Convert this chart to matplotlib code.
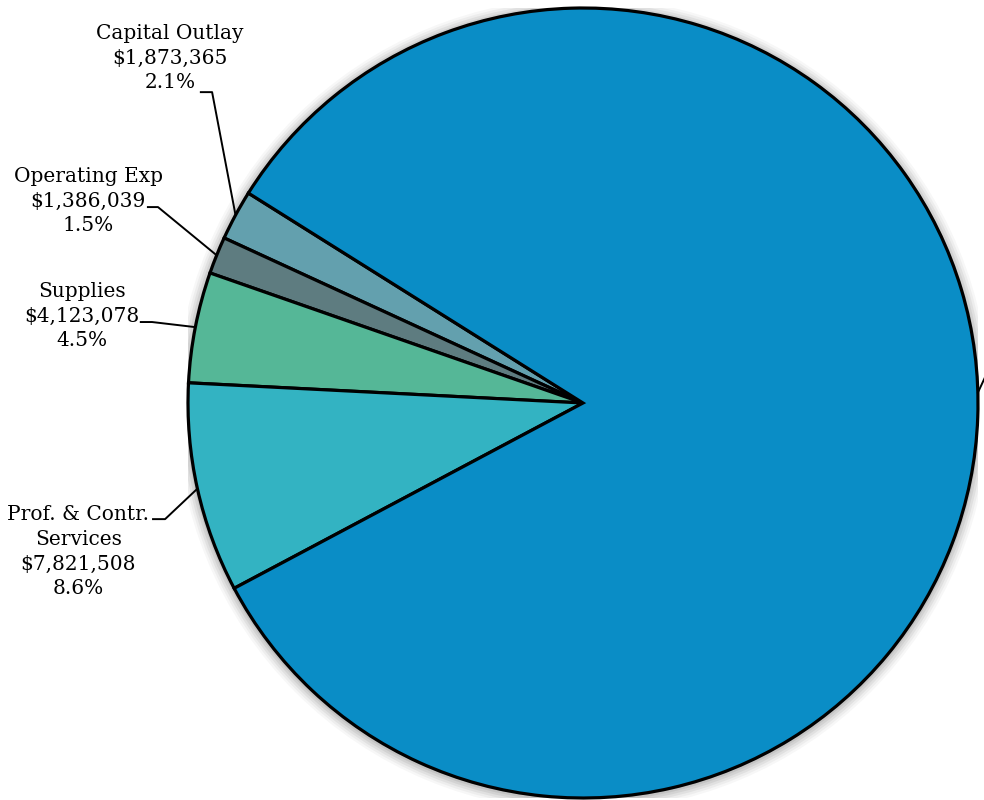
import numpy as np
import matplotlib.pyplot as plt

# expenditure categories, drawn counter-clockwise from the capital slice
categories = ["Capital Outlay", "Operating Exp", "Supplies",
              "Prof. & Contr.\nServices", "Salaries & Benefits"]
amounts = [1873365, 1386039, 4123078, 7821508, 75900000]
colors = ["#63a0ae", "#5e7c80", "#55b797", "#33b3c2", "#0a8dc6"]

# label text centre and elbow of the leader line (data units, radius = 1)
label_pos = [(-1.046, 0.873), (-1.253, 0.511), (-1.268, 0.220), (-1.278, -0.377)]
elbow_pos = [(-0.939, 0.787), (-1.076, 0.496), (-1.091, 0.205), (-1.058, -0.294)]
line_end = [(-0.970, 0.787), (-1.104, 0.496), (-1.122, 0.205), (-1.091, -0.294)]

total = sum(amounts)
pcts = [a / total * 100 for a in amounts]

fig = plt.figure(figsize=(9.84, 8), dpi=100)
r_px = 395
cx, cy = 583, 403
ax = fig.add_axes([(cx - r_px) / 984, (800 - cy - r_px) / 800,
                   2 * r_px / 984, 2 * r_px / 800])

# soft grey halo around the pie
for k, a in zip(np.linspace(1.03, 1.0, 6), [0.03, 0.04, 0.05, 0.06, 0.07, 0.08]):
    ax.add_patch(plt.Circle((0.0, -0.004), k, color="black", alpha=a, lw=0, zorder=0))

start = 90 + 57.9
wedges, _ = ax.pie(amounts, colors=colors, startangle=start, counterclock=True,
                   wedgeprops=dict(edgecolor="black", linewidth=2.3))
ax.set_xlim(-1, 1)
ax.set_ylim(-1, 1)
ax.set_aspect("equal")
ax.axis("off")

for i in range(4):
    w = wedges[i]
    ang = np.deg2rad((w.theta1 + w.theta2) / 2)
    ex, ey = np.cos(ang), np.sin(ang)
    ax.plot([ex, elbow_pos[i][0], line_end[i][0]], [ey, elbow_pos[i][1], line_end[i][1]],
            color="black", lw=1.4, clip_on=False, solid_capstyle="butt")
    txt = f"{categories[i]}\n${amounts[i]:,.0f}\n{pcts[i]:.1f}%"
    ax.text(label_pos[i][0], label_pos[i][1], txt, ha="center", va="center",
            family="DejaVu Serif", fontsize=14.5, linespacing=1.38, clip_on=False)

# leader for the large slice runs off the right edge
ang = np.deg2rad(1.5)
ax.plot([np.cos(ang), 1.02], [np.sin(ang), 0.07], color="black", lw=1.4, clip_on=False)

fig.savefig("out.png", dpi=100)
